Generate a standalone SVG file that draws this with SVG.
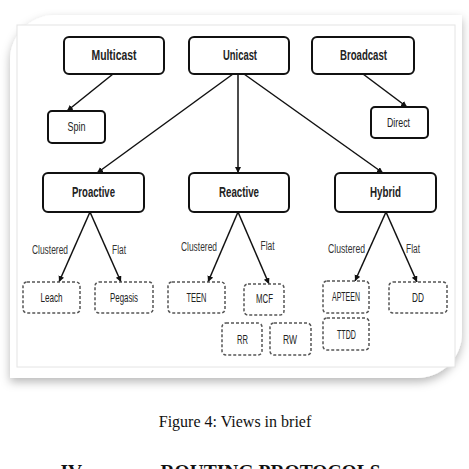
<svg xmlns="http://www.w3.org/2000/svg" width="469" height="469" viewBox="0 0 469 469">
<style>
.box{fill:#fff;stroke:#111;stroke-width:2}
.leaf{fill:#fff;stroke:#555;stroke-width:1.5;stroke-dasharray:3 2}
.t{font-family:"Liberation Sans",Arial,sans-serif;fill:#222;text-anchor:middle}
.big{font-size:15px;font-weight:bold}
.sm{font-size:13px}
.lb{font-family:"Liberation Sans",Arial,sans-serif;fill:#333;font-size:12.5px;text-anchor:middle}
.c{stroke:#111;stroke-width:1.5;fill:none;marker-end:url(#ah)}
.cap{font-family:"Liberation Serif","Times New Roman",serif;fill:#111;text-anchor:middle}
</style>
<defs>
<marker id="ah" markerUnits="userSpaceOnUse" markerWidth="7" markerHeight="7" refX="6" refY="3" orient="auto">
<path d="M0,0 L6,3 L0,6 z" fill="#111"/>
</marker>
<filter id="sh" x="-10%" y="-10%" width="120%" height="125%">
<feDropShadow dx="0" dy="4" stdDeviation="5" flood-color="#000" flood-opacity="0.28"/>
</filter>
</defs>
<rect width="469" height="469" fill="#fff"/>
<path d="M10,60 A45,45 0 0 1 55,15 H462 V333 A45,45 0 0 1 417,378 H10 Z" fill="#fff" filter="url(#sh)"/>
<rect x="17" y="25" width="438" height="342" fill="#fff" stroke="#e4e4e4" stroke-width="1"/>

<g id="connectors">
<line class="c" x1="113" y1="74" x2="67" y2="111"/>
<line class="c" x1="363" y1="74" x2="407" y2="107"/>
<line class="c" x1="233" y1="74" x2="97" y2="173"/>
<line class="c" x1="238" y1="74" x2="238" y2="173"/>
<line class="c" x1="244" y1="74" x2="383" y2="173"/>
<line class="c" x1="90" y1="212" x2="59" y2="282"/>
<line class="c" x1="90" y1="212" x2="121" y2="282"/>
<line class="c" x1="238" y1="212" x2="208" y2="282"/>
<line class="c" x1="238" y1="212" x2="269" y2="284"/>
<line class="c" x1="386" y1="212" x2="355" y2="281"/>
<line class="c" x1="386" y1="212" x2="417" y2="282"/>
<text class="lb" x="50" y="254" textLength="36" lengthAdjust="spacingAndGlyphs">Clustered</text>
<text class="lb" x="119" y="254" textLength="14" lengthAdjust="spacingAndGlyphs">Flat</text>
<text class="lb" x="199" y="251" textLength="36" lengthAdjust="spacingAndGlyphs">Clustered</text>
<text class="lb" x="267.5" y="250" textLength="14" lengthAdjust="spacingAndGlyphs">Flat</text>
<text class="lb" x="346.5" y="253" textLength="37" lengthAdjust="spacingAndGlyphs">Clustered</text>
<text class="lb" x="413" y="253" textLength="14" lengthAdjust="spacingAndGlyphs">Flat</text>
</g>

<g id="multicast"><rect class="box" x="64" y="37" width="100" height="37" rx="5"/><text class="t big" x="114" y="60" textLength="45" lengthAdjust="spacingAndGlyphs">Multicast</text></g>
<g id="unicast"><rect class="box" x="189" y="37" width="100" height="37" rx="5"/><text class="t big" x="240" y="60" textLength="34" lengthAdjust="spacingAndGlyphs">Unicast</text></g>
<g id="broadcast"><rect class="box" x="312" y="37" width="102" height="37" rx="5"/><text class="t big" x="363.5" y="60" textLength="47" lengthAdjust="spacingAndGlyphs">Broadcast</text></g>
<g id="spin"><rect class="box" x="48" y="111" width="57" height="32" rx="4"/><text class="t sm" x="76.5" y="131" textLength="18" lengthAdjust="spacingAndGlyphs">Spin</text></g>
<g id="direct"><rect class="box" x="371" y="107" width="57" height="31" rx="4"/><text class="t sm" x="398.5" y="127" textLength="23" lengthAdjust="spacingAndGlyphs">Direct</text></g>
<g id="proactive"><rect class="box" x="43" y="173" width="101" height="39" rx="5"/><text class="t big" x="93.5" y="197" textLength="43" lengthAdjust="spacingAndGlyphs">Proactive</text></g>
<g id="reactive"><rect class="box" x="189" y="173" width="100" height="39" rx="5"/><text class="t big" x="239" y="197" textLength="40" lengthAdjust="spacingAndGlyphs">Reactive</text></g>
<g id="hybrid"><rect class="box" x="335" y="173" width="101" height="39" rx="5"/><text class="t big" x="385.5" y="197" textLength="31" lengthAdjust="spacingAndGlyphs">Hybrid</text></g>

<g id="leach"><rect class="leaf" x="23" y="282" width="57" height="31" rx="4"/><text class="t sm" x="51.5" y="302" textLength="22" lengthAdjust="spacingAndGlyphs">Leach</text></g>
<g id="pegasis"><rect class="leaf" x="95" y="282" width="58" height="31" rx="4"/><text class="t sm" x="124" y="302" textLength="28" lengthAdjust="spacingAndGlyphs">Pegasis</text></g>
<g id="teen"><rect class="leaf" x="168" y="282" width="57" height="31" rx="4"/><text class="t sm" x="196.5" y="302" textLength="20" lengthAdjust="spacingAndGlyphs">TEEN</text></g>
<g id="mcf"><rect class="leaf" x="244" y="284" width="40" height="31" rx="4"/><text class="t sm" x="264.5" y="303" textLength="17" lengthAdjust="spacingAndGlyphs">MCF</text></g>
<g id="apteen"><rect class="leaf" x="323" y="281" width="46" height="32" rx="4"/><text class="t" x="346" y="301" font-size="12" textLength="28" lengthAdjust="spacingAndGlyphs">APTEEN</text></g>
<g id="dd"><rect class="leaf" x="389" y="282" width="58" height="31" rx="4"/><text class="t sm" x="418" y="302" textLength="12" lengthAdjust="spacingAndGlyphs">DD</text></g>
<g id="rr"><rect class="leaf" x="222" y="323" width="40" height="32" rx="4"/><text class="t sm" x="242.5" y="344" textLength="11" lengthAdjust="spacingAndGlyphs">RR</text></g>
<g id="rw"><rect class="leaf" x="270" y="323" width="41" height="32" rx="4"/><text class="t sm" x="290" y="344" textLength="14" lengthAdjust="spacingAndGlyphs">RW</text></g>
<g id="ttdd"><rect class="leaf" x="323" y="318" width="46" height="32" rx="4"/><text class="t" x="346.5" y="339" font-size="12" textLength="19" lengthAdjust="spacingAndGlyphs">TTDD</text></g>

<text class="cap" x="235" y="427" font-size="16">Figure 4: Views in brief</text>
<text class="cap" x="72.5" y="478" font-size="19.5" font-weight="bold">IV.</text>
<text class="cap" x="270.5" y="478" font-size="19.5" font-weight="bold">ROUTING PROTOCOLS</text>
</svg>
